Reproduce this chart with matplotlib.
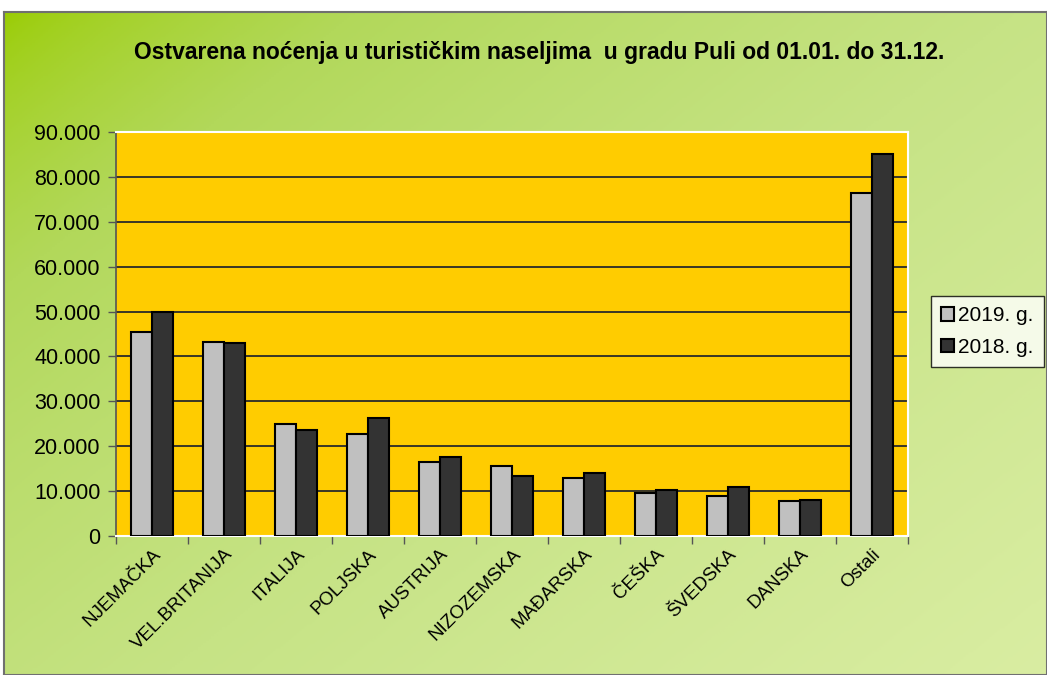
import numpy as np
import matplotlib
matplotlib.use("Agg")
import matplotlib.pyplot as plt
from matplotlib.colors import LinearSegmentedColormap
from matplotlib.ticker import FuncFormatter, MultipleLocator, FixedLocator

plt.rcParams['font.family'] = ['Liberation Sans', 'DejaVu Sans']

countries = ["NJEMAČKA", "VEL.BRITANIJA", "ITALIJA", "POLJSKA", "AUSTRIJA",
             "NIZOZEMSKA", "MAĐARSKA", "ČEŠKA", "ŠVEDSKA", "DANSKA", "Ostali"]
nights_2019 = [45500, 43300, 24900, 22800, 16500, 15500, 13000, 9600, 9000, 7700, 76300]
nights_2018 = [49900, 43000, 23700, 26300, 17600, 13400, 14000, 10300, 10900, 8100, 85100]
series_labels = ["2019. g.", "2018. g."]
title = "Ostvarena noćenja u turističkim naseljima  u gradu Puli od 01.01. do 31.12."

W, H = 1047, 675
fig = plt.figure(figsize=(W / 100, H / 100), dpi=100)
fig.patch.set_facecolor("white")

# ---- gradient background ------------------------------------------------
bg = fig.add_axes([4 / W, 0, 1 - 4 / W, (H - 12) / H], zorder=0)
gx, gy = np.meshgrid(np.linspace(0, 1, 400), np.linspace(0, 1, 300))
t = np.clip(0.55 * gx + 0.45 * gy, 0, 1) ** 0.65
cmap = LinearSegmentedColormap.from_list(
    "bg", ["#99cc00", "#b2d85a", "#c6e385", "#d9eda2"])
bg.imshow(t, cmap=cmap, aspect="auto", extent=[0, 1, 0, 1], origin="upper")
bg.set_xlim(0, 1)
bg.set_ylim(0, 1)
for s in bg.spines.values():
    s.set_color("#707070")
    s.set_linewidth(1.5)
bg.set_xticks([])
bg.set_yticks([])

# ---- main plot ----------------------------------------------------------
ax = fig.add_axes([116 / W, (H - 536) / H, (908 - 116) / W, (536 - 132) / H], zorder=2)
ax.set_facecolor("#ffcc00")

x = np.arange(len(countries))
bw = 0.29
ax.bar(x - bw / 2, nights_2019, bw, color="#c0c0c0", edgecolor="black",
       linewidth=1.5, label=series_labels[0], zorder=3)
ax.bar(x + bw / 2, nights_2018, bw, color="#333333", edgecolor="black",
       linewidth=1.5, label=series_labels[1], zorder=3)

ax.set_xlim(-0.5, len(countries) - 0.5)
ax.set_ylim(0, 90000)
ax.yaxis.set_major_locator(MultipleLocator(10000))
ax.yaxis.set_major_formatter(FuncFormatter(lambda v, p: f"{int(v):,}".replace(",", ".")))
ax.grid(axis="y", color="#2a2a2a", linewidth=1.3, zorder=1)
ax.set_axisbelow(True)

ax.xaxis.set_major_locator(FixedLocator(np.arange(-0.5, len(countries))))
ax.xaxis.set_major_formatter(FuncFormatter(lambda v, p: ""))
ax.xaxis.set_minor_locator(FixedLocator(x))
ax.set_xticklabels(countries, minor=True, rotation=45, ha="right", va="top",
                   rotation_mode="anchor", fontsize=13.5)
ax.tick_params(axis="x", which="minor", length=0, pad=7)
ax.tick_params(axis="x", which="major", length=6, width=1, color="#555555")
ax.tick_params(axis="y", length=6, width=1, color="#555555", labelsize=15.5, pad=5)

ax.spines["left"].set_color("#555555")
ax.spines["left"].set_linewidth(1.2)
for side in ("top", "right", "bottom"):
    ax.spines[side].set_color("white")
    ax.spines[side].set_linewidth(1.5)

fig.text(539 / W, 1 - 53 / H, title, ha="center", va="center",
         fontsize=16.5, fontweight="bold", zorder=5)

leg = fig.legend(loc="upper left", bbox_to_anchor=(931 / W, 1 - 296 / H),
                 fontsize=15, frameon=True, fancybox=False, borderpad=0.5,
                 handlelength=0.6, handleheight=0.6, handletextpad=0.2,
                 labelspacing=0.6, borderaxespad=0)
leg.get_frame().set_edgecolor("black")
leg.get_frame().set_linewidth(1.0)
leg.set_zorder(6)

fig.savefig("out.png", dpi=100)
